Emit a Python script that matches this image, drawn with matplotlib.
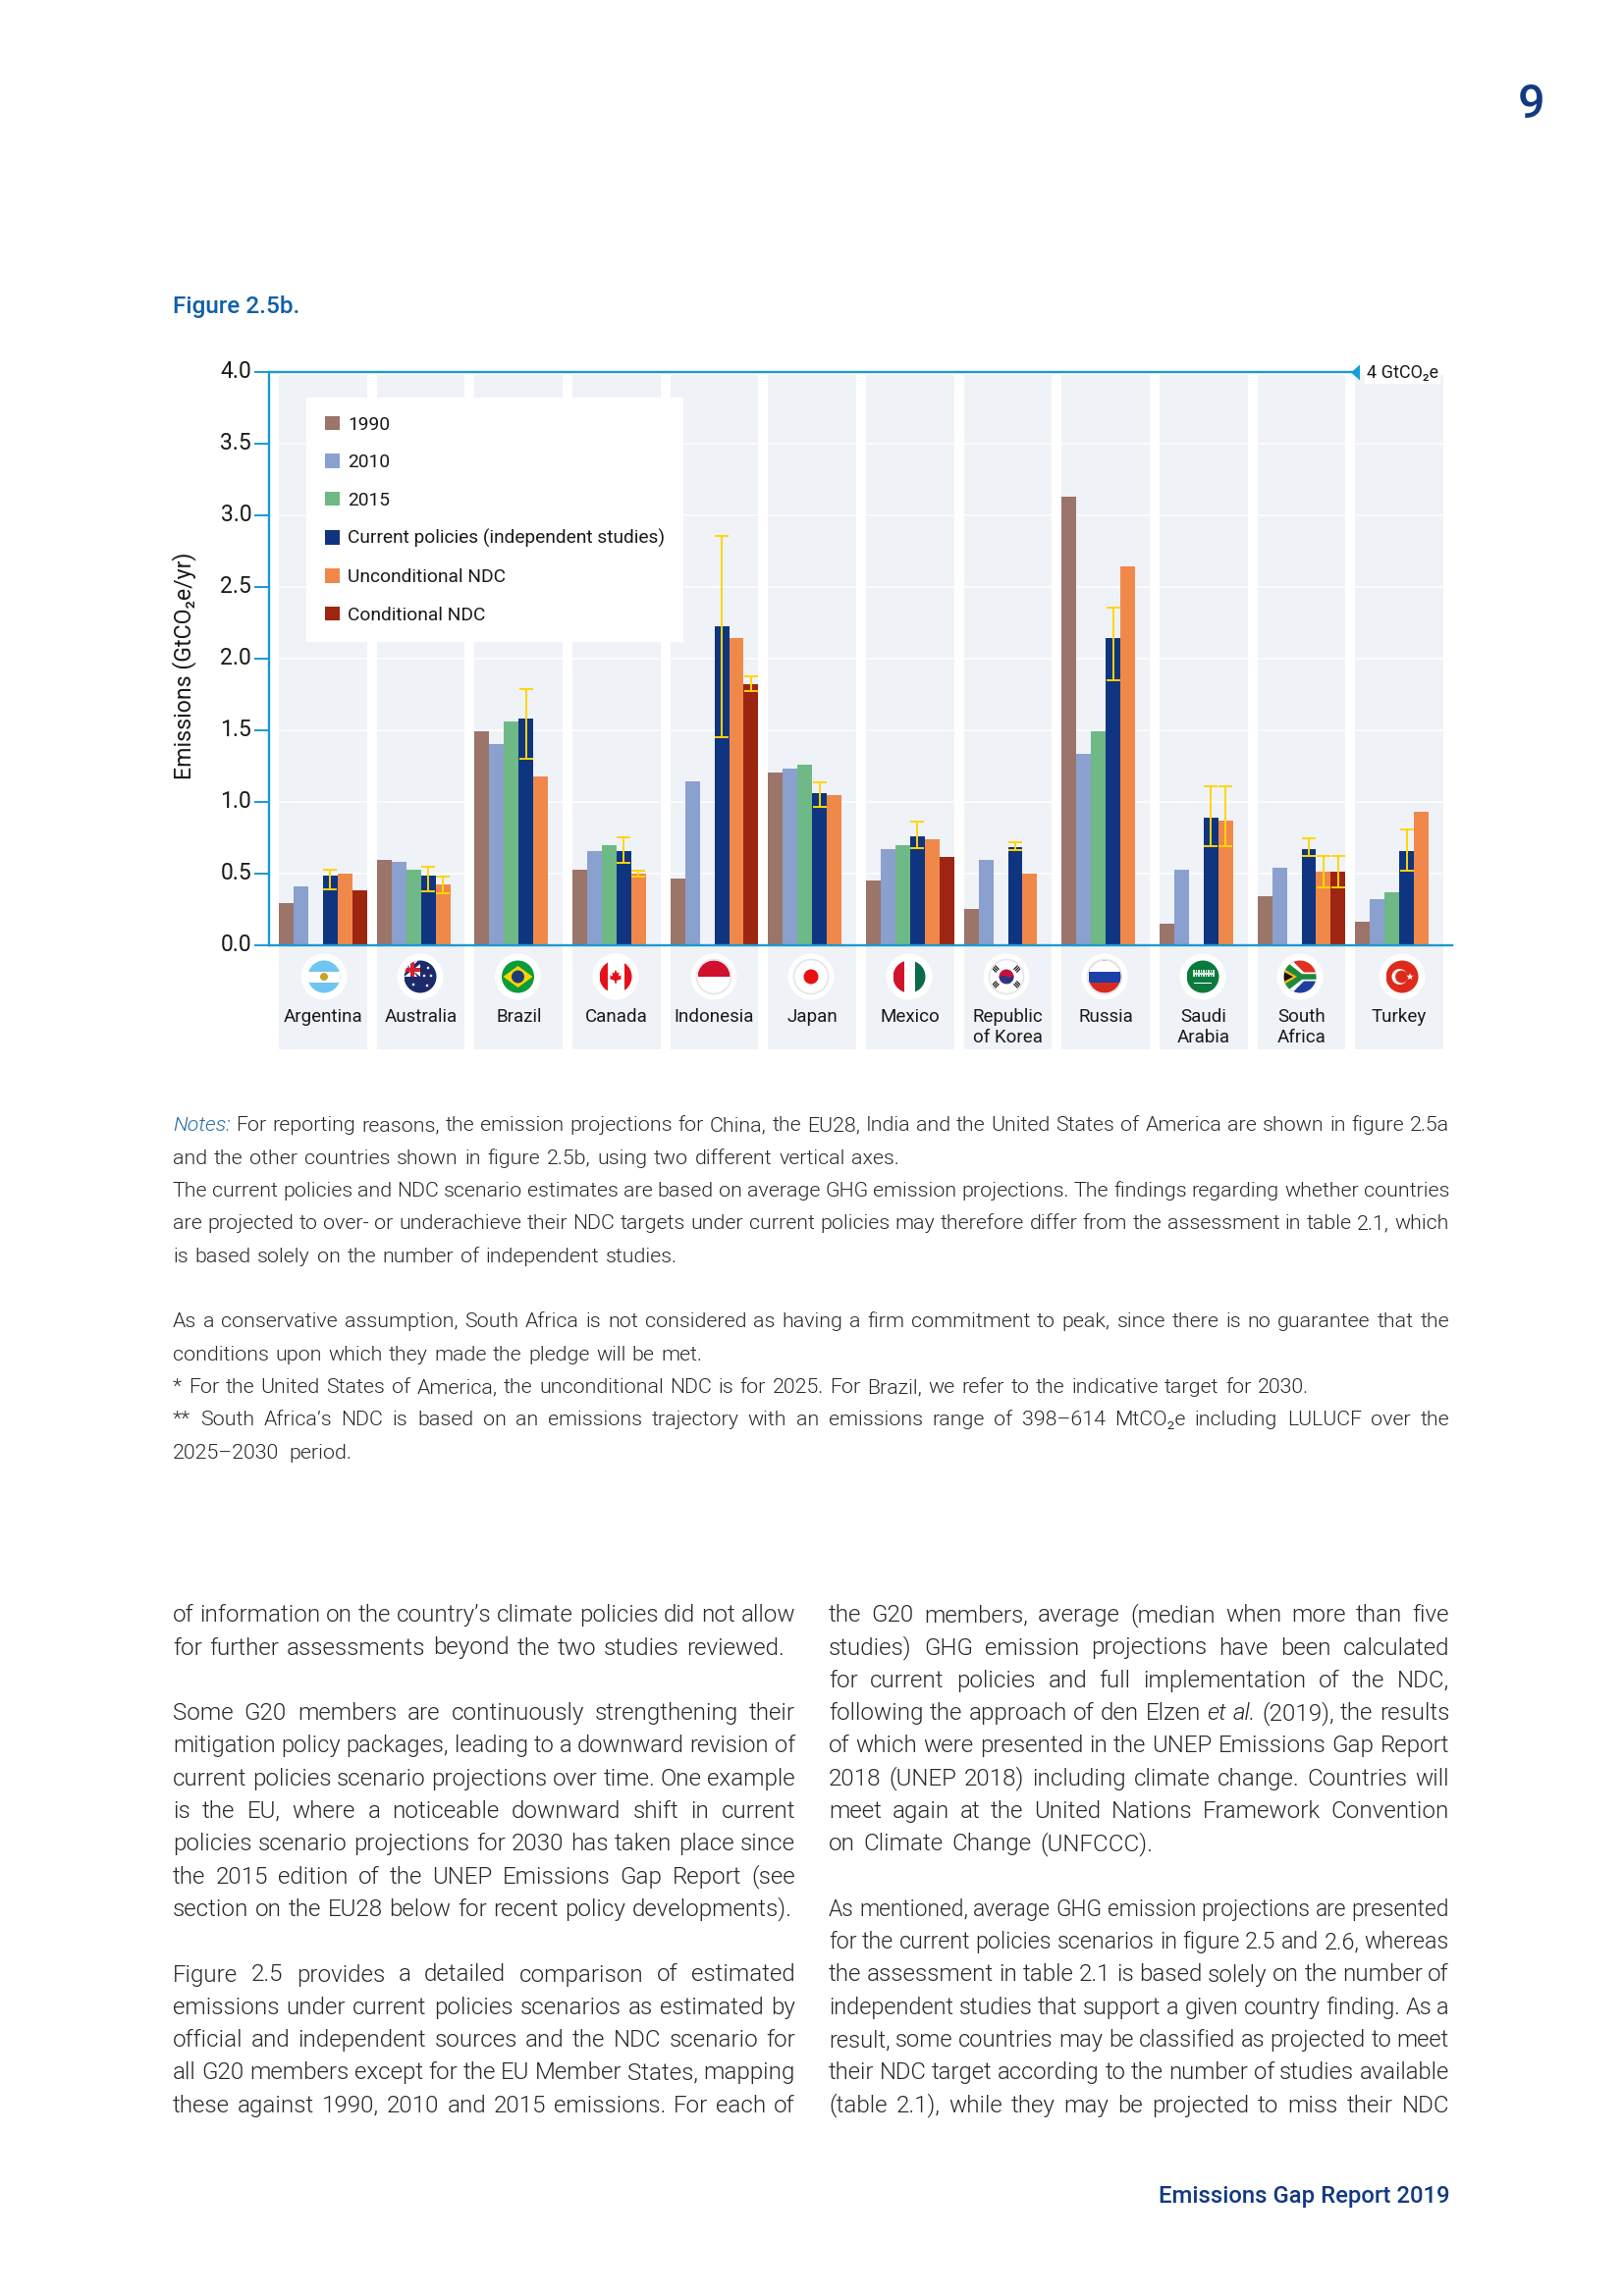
import numpy as np
import matplotlib
matplotlib.use("Agg")
import matplotlib.pyplot as plt
from matplotlib.patches import Circle, Rectangle, Polygon
from matplotlib.transforms import ScaledTranslation

plt.rcParams['font.family'] = ['Roboto', 'DejaVu Sans']

nan = np.nan
countries = ['Argentina', 'Australia', 'Brazil', 'Canada', 'Indonesia', 'Japan', 'Mexico',
             'Republic\nof Korea', 'Russia', 'Saudi\nArabia', 'South\nAfrica', 'Turkey']

e1990 = [0.297, 0.598, 1.495, 0.530, 0.468, 1.208, 0.454, 0.256, 3.128, 0.153, 0.345, 0.167]
e2010 = [0.413, 0.585, 1.406, 0.660, 1.146, 1.235, 0.674, 0.598, 1.338, 0.530, 0.543, 0.324]
e2015 = [nan, 0.530, 1.564, 0.700, nan, 1.263, 0.700, nan, 1.495, nan, nan, 0.372]
current = [0.489, 0.489, 1.584, 0.660, 2.229, 1.064, 0.763, 0.687, 2.146, 0.893, 0.674, 0.660]
uncond = [0.502, 0.427, 1.180, 0.502, 2.145, 1.050, 0.742, 0.502, 2.646, 0.872, 0.516, 0.934]
cond = [0.386, nan, nan, nan, 1.824, nan, 0.619, nan, nan, nan, 0.516, nan]

current_low = [0.393, 0.379, 1.301, 0.578, 1.454, 0.966, 0.680, 0.667, 1.853, 0.694, 0.626, 0.523]
current_high = [0.532, 0.553, 1.792, 0.753, 2.860, 1.139, 0.868, 0.724, 2.356, 1.114, 0.749, 0.813]
uncond_low = [nan, 0.365, nan, 0.484, nan, nan, nan, nan, nan, 0.694, 0.409, nan]
uncond_high = [nan, 0.484, nan, 0.523, nan, nan, nan, nan, nan, 1.114, 0.623, nan]
cond_low = [nan, nan, nan, nan, 1.778, nan, nan, nan, nan, nan, 0.409, nan]
cond_high = [nan, nan, nan, nan, 1.881, nan, nan, nan, nan, nan, 0.623, nan]

series_names = ['1990', '2010', '2015', 'Current policies (independent studies)',
                'Unconditional NDC', 'Conditional NDC']
series_colors = ['#9B7569', '#8AA0CE', '#6EB985', '#0F3580', '#F0884A', '#9E2510']
yticks = [0, 0.5, 1, 1.5, 2, 2.5, 3, 3.5, 4]
flag_x_px = [330, 428, 527.5, 627, 727, 826, 926, 1025, 1125, 1225, 1324, 1428]

notes_lines = [
    (0, 'Notes: For reporting reasons, the emission projections for China, the EU28, India and the United States of America are shown in figure 2.5a', 1476),
    (1, 'and the other countries shown in figure 2.5b, using two different vertical axes.', 916),
    (2, 'The current policies and NDC scenario estimates are based on average GHG emission projections. The findings regarding whether countries', 1476),
    (3, 'are projected to over- or underachieve their NDC targets under current policies may therefore differ from the assessment in table 2.1, which', 1476),
    (4, 'is based solely on the number of independent studies.', 690),
    (6, 'As a conservative assumption, South Africa is not considered as having a firm commitment to peak, since there is no guarantee that the', 1476),
    (7, 'conditions upon which they made the pledge will be met.', 715),
    (8, '* For the United States of America, the unconditional NDC is for 2025. For Brazil, we refer to the indicative target for 2030.', 1333),
    (9, '** South Africa’s NDC is based on an emissions trajectory with an emissions range of 398–614 MtCO₂e including LULUCF over the', 1476),
    (10, '2025–2030 period.', 358),
]
left_lines = [
    (0, 'of information on the country’s climate policies did not allow', 810),
    (1, 'for further assessments beyond the two studies reviewed.', 799),
    (3, 'Some G20 members are continuously strengthening their', 810),
    (4, 'mitigation policy packages, leading to a downward revision of', 810),
    (5, 'current policies scenario projections over time. One example', 810),
    (6, 'is the EU, where a noticeable downward shift in current', 810),
    (7, 'policies scenario projections for 2030 has taken place since', 810),
    (8, 'the 2015 edition of the UNEP Emissions Gap Report (see', 810),
    (9, 'section on the EU28 below for recent policy developments).', 807),
    (11, 'Figure 2.5 provides a detailed comparison of estimated', 810),
    (12, 'emissions under current policies scenarios as estimated by', 810),
    (13, 'official and independent sources and the NDC scenario for', 810),
    (14, 'all G20 members except for the EU Member States, mapping', 810),
    (15, 'these against 1990, 2010 and 2015 emissions. For each of', 810),
]
right_lines = [
    (0, 'the G20 members, average (median when more than five', 1476),
    (1, 'studies) GHG emission projections have been calculated', 1476),
    (2, 'for current policies and full implementation of the NDC,', 1476),
    (3, 'following the approach of den Elzen et al. (2019), the results', 1476),
    (4, 'of which were presented in the UNEP Emissions Gap Report', 1476),
    (5, '2018 (UNEP 2018) including climate change. Countries will', 1476),
    (6, 'meet again at the United Nations Framework Convention', 1476),
    (7, 'on Climate Change (UNFCCC).', 1174),
    (9, 'As mentioned, average GHG emission projections are presented', 1476),
    (10, 'for the current policies scenarios in figure 2.5 and 2.6, whereas', 1476),
    (11, 'the assessment in table 2.1 is based solely on the number of', 1476),
    (12, 'independent studies that support a given country finding. As a', 1476),
    (13, 'result, some countries may be classified as projected to meet', 1476),
    (14, 'their NDC target according to the number of studies available', 1476),
    (15, '(table 2.1), while they may be projected to miss their NDC', 1476),
]

W, H = 1654, 2339
AXIS = '#1A9AD0'
YELLOW = '#FFD60A'
PANEL = '#EFF2F6'
NAVY = '#123A82'
UNIT = 99.65  # pixels per country

fig = plt.figure(figsize=(W / 100, H / 100), dpi=100, facecolor='white')
ax = fig.add_axes([274 / W, 1 - 963.3 / H, (1478.6 - 274) / W, (963.3 - 379) / H])
xmin, xmax = (274 - 329) / UNIT, (1478.6 - 329) / UNIT
ax.set_xlim(xmin, xmax)
ax.set_ylim(0, 4)
ax.patch.set_visible(False)

x = np.arange(len(countries))
ax.bar(x, [3.98 + 0.724] * len(x), bottom=-0.724, width=0.9, color=PANEL, zorder=0, clip_on=False)
ax.hlines(yticks[1:-1], xmin, xmax, color='white', lw=1.1, zorder=1)

bw = 0.15
all_series = [e1990, e2010, e2015, current, uncond, cond]
containers = []
for k, vals in enumerate(all_series):
    c = ax.bar(x + (k - 2.5) * bw, vals, width=bw, color=series_colors[k], zorder=2,
               label=series_names[k])
    containers.append(c)

for k, vals, lo, hi in [(3, current, current_low, current_high),
                        (4, uncond, uncond_low, uncond_high),
                        (5, cond, cond_low, cond_high)]:
    vals, lo, hi = np.array(vals), np.array(lo), np.array(hi)
    m = ~np.isnan(lo)
    ax.errorbar(x[m] + (k - 2.5) * bw, vals[m], yerr=[vals[m] - lo[m], hi[m] - vals[m]], fmt='none',
                ecolor=YELLOW, elinewidth=1.4, capsize=4.7, capthick=1.4, zorder=3)

for s in ['left', 'top', 'bottom']:
    ax.spines[s].set_color(AXIS)
    ax.spines[s].set_linewidth(1.7)
    ax.spines[s].set_zorder(4)
ax.spines['right'].set_visible(False)
ax.spines['top'].set_bounds(xmin, (1377 - 329) / UNIT)

ax.set_yticks(yticks)
ax.set_yticklabels(['%.1f' % v for v in yticks], fontsize=16.5, color='#1a1a1a')
ax.tick_params(axis='y', length=10.8, width=1.4, color=AXIS, pad=2)
for lab in ax.get_yticklabels():
    lab.set_transform(lab.get_transform() + ScaledTranslation(0, 3 / 100, fig.dpi_scale_trans))
ax.set_xticks(x)
ax.set_xticklabels(countries, fontsize=13.5, color='#1a1a1a', linespacing=1.2)
ax.tick_params(axis='x', length=0, pad=46)

ax.set_ylabel('Emissions (GtCO₂e/yr)', fontsize=16.7, color='#1a1a1a')
ax.yaxis.set_label_coords((200 - 274) / 1204.6, (963.3 - 678) / 584.3)

# triangle at the end of the 4 GtCO2e line
tri = [(-4.5, 0), (4.5, 8), (4.5, -8)]
ax.plot([(1379.5 - 329) / UNIT], [4], marker=tri, ms=11.5, color='#12A0DC', mew=0, clip_on=False, zorder=5)
fig.text(1392 / W, 1 - 380 / H, '4 GtCO₂e', fontsize=13, color='#1a1a1a', va='center', ha='left',
         bbox=dict(facecolor='white', edgecolor='none', pad=1.5), zorder=6)

leg = ax.legend(handles=containers, loc='upper left', bbox_to_anchor=(312 / W, 1 - 405 / H),
                bbox_transform=fig.transFigure, borderaxespad=0, fontsize=13.8, frameon=True,
                facecolor='white', framealpha=1, edgecolor='none', fancybox=False,
                borderpad=0.98, handlelength=0.8, handleheight=0.8, handletextpad=0.42,
                labelspacing=1.07)
leg.set_zorder(5)
for t in leg.get_texts():
    t.set_color('#1a1a1a')


def flag(a, name):
    r = 16.5
    clip = Circle((0, 0), r, transform=a.transData)

    def rect(x0, y0, w, h, col):
        p = a.add_patch(Rectangle((x0, y0), w, h, color=col, lw=0))
        p.set_clip_path(clip)

    def poly(pts, col):
        p = a.add_patch(Polygon(pts, color=col, lw=0))
        p.set_clip_path(clip)

    def disc(cx, cy, rad, col):
        p = a.add_patch(Circle((cx, cy), rad, color=col, lw=0))
        p.set_clip_path(clip)

    if name == 'Argentina':
        rect(-r, -r, 2 * r, 2 * r, '#6EC6F0')
        rect(-r, -5.5, 2 * r, 11, 'white')
        disc(0, 0, 4, '#C9A227')
    elif name == 'Australia':
        rect(-r, -r, 2 * r, 2 * r, '#1D2A6B')
        rect(-r, 0, 16, r, 'white')
        poly([(-r, 0), (-r, 3), (-2, r), (0, r), (0, 13)], '#1D2A6B')
        poly([(-r, r), (-r, 13), (0, 0), (-3, 0)], '#1D2A6B')
        rect(-r, 5, 16, 4, '#D8202F')
        rect(-10, 0, 4, r, '#D8202F')
        for cx, cy in [(-7, -8), (8, 9), (11, 1), (4, 1), (7, -9)]:
            disc(cx, cy, 1.3, 'white')
    elif name == 'Brazil':
        rect(-r, -r, 2 * r, 2 * r, '#0C9B3A')
        poly([(-15, 0), (0, 11), (15, 0), (0, -11)], '#FFD400')
        disc(0, 0, 6.5, '#1E3A7A')
    elif name == 'Canada':
        rect(-r, -r, 2 * r, 2 * r, 'white')
        rect(-r, -r, 8, 2 * r, '#E4111C')
        rect(8.5, -r, 8, 2 * r, '#E4111C')
        poly([(0, 7), (1.8, 3.5), (3.5, 4.5), (3, 0.5), (6, 1.5), (5, -1), (6.5, -2), (1, -4), (0.6, -7),
              (-0.6, -7), (-1, -4), (-6.5, -2), (-5, -1), (-6, 1.5), (-3, 0.5), (-3.5, 4.5), (-1.8, 3.5)],
             '#E4111C')
    elif name == 'Indonesia':
        rect(-r, -r, 2 * r, 2 * r, 'white')
        rect(-r, 0, 2 * r, r, '#D0102C')
        a.add_patch(Circle((0, 0), r + 1, fill=False, ec='#E3E5E8', lw=1.2))
    elif name == 'Japan':
        rect(-r, -r, 2 * r, 2 * r, 'white')
        disc(0, 0, 7.5, '#E8100F')
        a.add_patch(Circle((0, 0), r + 1, fill=False, ec='#E3E5E8', lw=1.2))
    elif name == 'Mexico':
        rect(-r, -r, 2 * r, 2 * r, 'white')
        rect(-r, -r, 11, 2 * r, '#D0142C')
        rect(5.5, -r, 11, 2 * r, '#0A6B4A')
    elif name == 'Korea':
        rect(-r, -r, 2 * r, 2 * r, 'white')
        disc(0, 0, 7.5, '#C8103C')
        poly([(-7.5, 0), (-6, -4), (-2, -7), (3, -7), (7, -3), (7.5, 1), (3, -1), (-3, 1)], '#1F3A8A')
        for cx, cy, ang in [(-11, 8, -45), (11, 8, 45), (-11, -8, 45), (11, -8, -45)]:
            for off in (-2, 0, 2):
                c, s = np.cos(np.radians(ang)), np.sin(np.radians(ang))
                pts = [(-3, off - 0.6), (3, off - 0.6), (3, off + 0.6), (-3, off + 0.6)]
                poly([(cx + px * c - py * s, cy + px * s + py * c) for px, py in pts], '#111111')
        a.add_patch(Circle((0, 0), r + 1, fill=False, ec='#E3E5E8', lw=1.2))
    elif name == 'Russia':
        rect(-r, -r, 2 * r, 2 * r, '#D52B1E')
        rect(-r, -5.5, 2 * r, 11, '#1C3FA8')
        rect(-r, 5.5, 2 * r, 11, 'white')
        a.add_patch(Circle((0, 0), r + 1, fill=False, ec='#E3E5E8', lw=1.2))
    elif name == 'Saudi':
        rect(-r, -r, 2 * r, 2 * r, '#0A7A3E')
        for cx in np.arange(-10, 11, 2.5):
            rect(cx, 0, 1.5, 7, '#DCEDE2')
        rect(-10, 2.5, 20, 1.5, '#DCEDE2')
        rect(-9, -6.5, 18, 1, 'white')
    elif name == 'SouthAfrica':
        rect(-r, 0, 2 * r, r, '#E0301E')
        rect(-r, -r, 2 * r, r, '#1F3FA0')
        poly([(-r, r), (-8, r), (4, 4.5), (r, 4.5), (r, -4.5), (4, -4.5), (-8, -r), (-r, -r)], 'white')
        poly([(-r, 13), (-11, 13), (2, 2.8), (r, 2.8), (r, -2.8), (2, -2.8), (-11, -13), (-r, -13)], '#1E8A3C')
        poly([(-r, 8), (-3, 0), (-r, -8)], '#FFB81C')
        poly([(-r, 5), (-7, 0), (-r, -5)], '#111111')
    elif name == 'Turkey':
        rect(-r, -r, 2 * r, 2 * r, '#DD2A1B')
        disc(-2.5, 0, 8, 'white')
        disc(-0.5, 0, 6.4, '#DD2A1B')
        ang = np.radians(90 + np.arange(10) * 36)
        rad = np.where(np.arange(10) % 2 == 0, 3.8, 1.5)
        poly(np.c_[8 + rad * np.cos(ang), rad * np.sin(ang)], 'white')


flag_names = ['Argentina', 'Australia', 'Brazil', 'Canada', 'Indonesia', 'Japan', 'Mexico',
              'Korea', 'Russia', 'Saudi', 'SouthAfrica', 'Turkey']
for px, name in zip(flag_x_px, flag_names):
    fa = fig.add_axes([(px - 24) / W, 1 - (995 + 24) / H, 48 / W, 48 / H])
    fa.set_xlim(-24, 24)
    fa.set_ylim(-24, 24)
    fa.axis('off')
    fa.add_patch(Circle((0, 0), 23.5, color='white', lw=0))
    flag(fa, name)

renderer = fig.canvas.get_renderer()


def put_line(text, x0, x1, y, size, weight=300, color='#2a2a2a'):
    # lay out words one by one, the report is set justified
    words = text.split(' ')
    arts = []
    total = 0
    for w in words:
        style = 'normal'
        col = color
        if w in ('et', 'al.'):
            style = 'italic'
        if w == 'Notes:':
            style = 'italic'
            col = '#2A6EA8'
        t = fig.text(0, 1 - y / H, w, fontsize=size, fontweight=weight, fontstyle=style, color=col,
                     va='baseline', ha='left')
        total += t.get_window_extent(renderer).width
        arts.append(t)
    if len(words) == 1:
        arts[0].set_x(x0 / W)
        return
    gap = (x1 - x0 - total) / (len(words) - 1)
    if gap < size * 0.3:
        s = size * (x1 - x0 - size * 0.3 * (len(words) - 1)) / total
        total = 0
        for t in arts:
            t.set_fontsize(s)
            total += t.get_window_extent(renderer).width
        gap = (x1 - x0 - total) / (len(words) - 1)
    pos = x0
    for t in arts:
        t.set_x(pos / W)
        pos += t.get_window_extent(renderer).width + gap


for i, txt, end in notes_lines:
    put_line(txt, 176, end, 1152.5 + 33.3 * i, 15.4)
for i, txt, end in left_lines:
    put_line(txt, 176, end, 1652.2 + 33.3 * i, 17.4)
for i, txt, end in right_lines:
    put_line(txt, 844, end, 1652.2 + 33.3 * i, 17.4)

fig.text(176 / W, 1 - 319 / H, 'Figure 2.5b.', fontsize=17.5, fontweight=500, color='#0F5FA8', va='baseline')
fig.text(1560 / W, 1 - 120 / H, '9', fontsize=35, fontweight=500, color=NAVY, va='baseline', ha='center')
fig.text(1477 / W, 1 - 2244 / H, 'Emissions Gap Report 2019', fontsize=17.2, fontweight=500, color=NAVY,
         va='baseline', ha='right')

fig.savefig('out.png', dpi=100)
